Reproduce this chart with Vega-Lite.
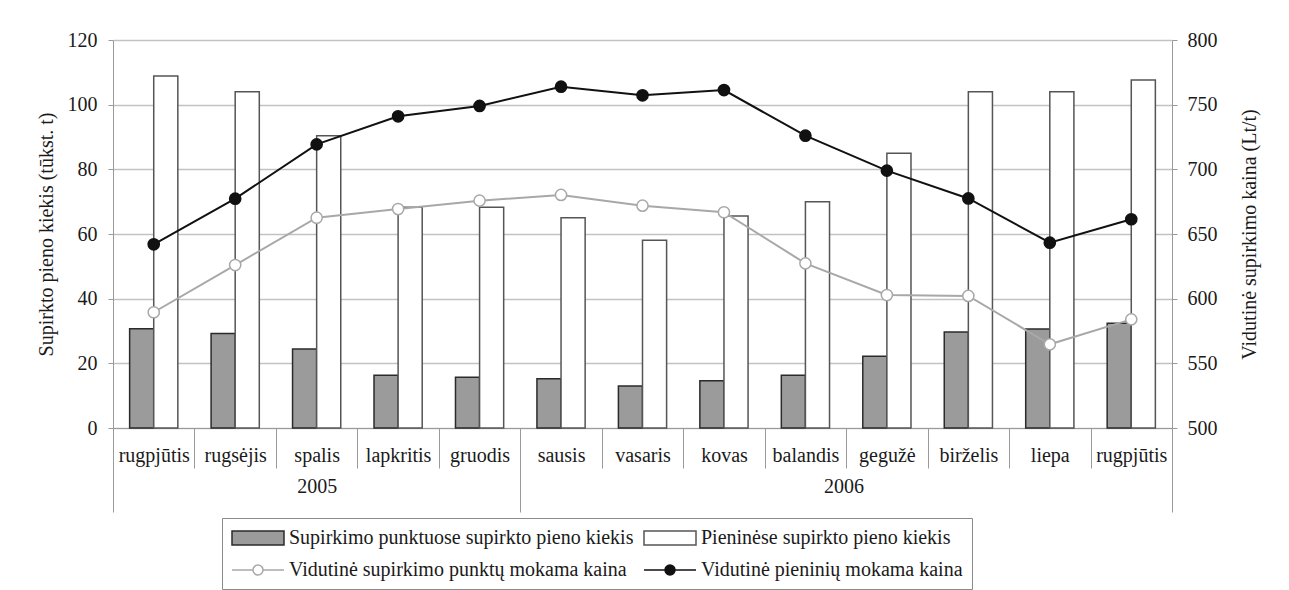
{
  "$schema": "https://vega.github.io/schema/vega-lite/v6.json",
  "width": 1059,
  "height": 388,
  "autosize": {"type": "none"},
  "padding": {"left": 113, "top": 40, "right": 117, "bottom": 162},
  "background": "white",
  "config": {
    "font": "Liberation Serif",
    "view": {"stroke": null},
    "axis": {
      "labelFont": "Liberation Serif",
      "labelFontSize": 20,
      "labelColor": "#1a1a1a",
      "titleFont": "Liberation Serif",
      "titleFontSize": 20,
      "titleFontWeight": "normal",
      "titleColor": "#1a1a1a",
      "domainColor": "#9a9a9a",
      "tickColor": "#9a9a9a",
      "gridColor": "#c2c2c2"
    }
  },
  "datasets": {
    "qty": [
      {"month": "rugpjūtis 2005", "series": "Supirkimo punktuose supirkto pieno kiekis", "value": 30.7},
      {"month": "rugsėjis 2005", "series": "Supirkimo punktuose supirkto pieno kiekis", "value": 29.2},
      {"month": "spalis 2005", "series": "Supirkimo punktuose supirkto pieno kiekis", "value": 24.4},
      {"month": "lapkritis 2005", "series": "Supirkimo punktuose supirkto pieno kiekis", "value": 16.3},
      {"month": "gruodis 2005", "series": "Supirkimo punktuose supirkto pieno kiekis", "value": 15.7},
      {"month": "sausis 2006", "series": "Supirkimo punktuose supirkto pieno kiekis", "value": 15.2},
      {"month": "vasaris 2006", "series": "Supirkimo punktuose supirkto pieno kiekis", "value": 13.0},
      {"month": "kovas 2006", "series": "Supirkimo punktuose supirkto pieno kiekis", "value": 14.6},
      {"month": "balandis 2006", "series": "Supirkimo punktuose supirkto pieno kiekis", "value": 16.3},
      {"month": "gegužė 2006", "series": "Supirkimo punktuose supirkto pieno kiekis", "value": 22.2},
      {"month": "birželis 2006", "series": "Supirkimo punktuose supirkto pieno kiekis", "value": 29.7},
      {"month": "liepa 2006", "series": "Supirkimo punktuose supirkto pieno kiekis", "value": 30.6},
      {"month": "rugpjūtis 2006", "series": "Supirkimo punktuose supirkto pieno kiekis", "value": 32.4},
      {"month": "rugpjūtis 2005", "series": "Pieninėse supirkto pieno kiekis", "value": 108.9},
      {"month": "rugsėjis 2005", "series": "Pieninėse supirkto pieno kiekis", "value": 104.0},
      {"month": "spalis 2005", "series": "Pieninėse supirkto pieno kiekis", "value": 90.4},
      {"month": "lapkritis 2005", "series": "Pieninėse supirkto pieno kiekis", "value": 68.3},
      {"month": "gruodis 2005", "series": "Pieninėse supirkto pieno kiekis", "value": 68.3},
      {"month": "sausis 2006", "series": "Pieninėse supirkto pieno kiekis", "value": 65.0},
      {"month": "vasaris 2006", "series": "Pieninėse supirkto pieno kiekis", "value": 58.1},
      {"month": "kovas 2006", "series": "Pieninėse supirkto pieno kiekis", "value": 65.6},
      {"month": "balandis 2006", "series": "Pieninėse supirkto pieno kiekis", "value": 70.0},
      {"month": "gegužė 2006", "series": "Pieninėse supirkto pieno kiekis", "value": 85.0},
      {"month": "birželis 2006", "series": "Pieninėse supirkto pieno kiekis", "value": 104.0},
      {"month": "liepa 2006", "series": "Pieninėse supirkto pieno kiekis", "value": 104.0},
      {"month": "rugpjūtis 2006", "series": "Pieninėse supirkto pieno kiekis", "value": 107.6}
    ],
    "price": [
      {"month": "rugpjūtis 2005", "series": "Vidutinė supirkimo punktų mokama kaina", "price": 589.5},
      {"month": "rugsėjis 2005", "series": "Vidutinė supirkimo punktų mokama kaina", "price": 626.0},
      {"month": "spalis 2005", "series": "Vidutinė supirkimo punktų mokama kaina", "price": 662.6},
      {"month": "lapkritis 2005", "series": "Vidutinė supirkimo punktų mokama kaina", "price": 669.3},
      {"month": "gruodis 2005", "series": "Vidutinė supirkimo punktų mokama kaina", "price": 675.8},
      {"month": "sausis 2006", "series": "Vidutinė supirkimo punktų mokama kaina", "price": 680.2},
      {"month": "vasaris 2006", "series": "Vidutinė supirkimo punktų mokama kaina", "price": 671.9},
      {"month": "kovas 2006", "series": "Vidutinė supirkimo punktų mokama kaina", "price": 666.8},
      {"month": "balandis 2006", "series": "Vidutinė supirkimo punktų mokama kaina", "price": 627.3},
      {"month": "gegužė 2006", "series": "Vidutinė supirkimo punktų mokama kaina", "price": 602.8},
      {"month": "birželis 2006", "series": "Vidutinė supirkimo punktų mokama kaina", "price": 602.1},
      {"month": "liepa 2006", "series": "Vidutinė supirkimo punktų mokama kaina", "price": 564.7},
      {"month": "rugpjūtis 2006", "series": "Vidutinė supirkimo punktų mokama kaina", "price": 584.0},
      {"month": "rugpjūtis 2005", "series": "Vidutinė pieninių mokama kaina", "price": 642.0},
      {"month": "rugsėjis 2005", "series": "Vidutinė pieninių mokama kaina", "price": 677.3},
      {"month": "spalis 2005", "series": "Vidutinė pieninių mokama kaina", "price": 719.3},
      {"month": "lapkritis 2005", "series": "Vidutinė pieninių mokama kaina", "price": 741.0},
      {"month": "gruodis 2005", "series": "Vidutinė pieninių mokama kaina", "price": 749.0},
      {"month": "sausis 2006", "series": "Vidutinė pieninių mokama kaina", "price": 763.9},
      {"month": "vasaris 2006", "series": "Vidutinė pieninių mokama kaina", "price": 757.2},
      {"month": "kovas 2006", "series": "Vidutinė pieninių mokama kaina", "price": 761.3},
      {"month": "balandis 2006", "series": "Vidutinė pieninių mokama kaina", "price": 726.0},
      {"month": "gegužė 2006", "series": "Vidutinė pieninių mokama kaina", "price": 699.0},
      {"month": "birželis 2006", "series": "Vidutinė pieninių mokama kaina", "price": 677.5},
      {"month": "liepa 2006", "series": "Vidutinė pieninių mokama kaina", "price": 643.3},
      {"month": "rugpjūtis 2006", "series": "Vidutinė pieninių mokama kaina", "price": 661.4}
    ]
  },
  "resolve": {"scale": {"y": "independent"}, "axis": {"x": "independent"}},
  "layer": [
    {
      "data": {"name": "qty"},
      "mark": {"type": "bar", "strokeWidth": 1.5},
      "encoding": {
        "x": {
          "field": "month", "type": "nominal",
          "scale": {"type": "band", "domain": ["rugpjūtis 2005","rugsėjis 2005","spalis 2005","lapkritis 2005","gruodis 2005","sausis 2006","vasaris 2006","kovas 2006","balandis 2006","gegužė 2006","birželis 2006","liepa 2006","rugpjūtis 2006"], "paddingInner": 0, "paddingOuter": 0},
          "axis": {"title": null, "orient": "bottom", "labelAngle": 0, "tickBand": "extent", "tickSize": 40, "labelPadding": -23, "labelExpr": "datum.value ? split(datum.value, ' ')[0] : ''", "grid": false, "domain": true}
        },
        "xOffset": {"field": "series", "type": "nominal", "scale": {"domain": ["Supirkimo punktuose supirkto pieno kiekis", "Pieninėse supirkto pieno kiekis"], "paddingInner": 0, "paddingOuter": 0.69}},
        "y": {
          "field": "value", "type": "quantitative", "stack": null,
          "scale": {"domain": [0, 120]},
          "axis": {"title": "Supirkto pieno kiekis (tūkst. t)", "values": [0,20,40,60,80,100,120], "tickSize": 5, "labelPadding": 11, "titlePadding": 11, "grid": true, "gridWidth": 1.3}
        },
        "fill": {
          "field": "series", "type": "nominal",
          "scale": {"domain": ["Supirkimo punktuose supirkto pieno kiekis", "Pieninėse supirkto pieno kiekis", "Vidutinė supirkimo punktų mokama kaina", "Vidutinė pieninių mokama kaina"], "range": ["#9b9b9b", "#ffffff", "#ffffff", "#111111"]},
          "legend": {
            "title": null, "orient": "none", "legendX": 109, "legendY": 478,
            "direction": "horizontal", "columns": 2, "gridAlign": "all",
            "padding": 9, "strokeColor": "#8a8a8a", "fillColor": "#ffffff",
            "symbolSize": 400, "symbolStrokeWidth": 1.5, "labelOffset": 36,
            "columnPadding": 7, "rowPadding": 11,
            "labelFont": "Liberation Serif", "labelFontSize": 20, "labelColor": "#1a1a1a", "labelLimit": 0,
            "encode": {
              "symbols": {
                "update": {
                  "shape": {"signal": "indexof(datum.value, 'kiekis') >= 0 ? 'M-1,-0.7H4.2V0.7H-1Z' : 'M-1,0H1.1M2.1,0H4.2M2.1,0A0.5,0.5,0,1,1,1.1,0A0.5,0.5,0,1,1,2.1,0Z'"},
                  "stroke": {"signal": "datum.value == 'Supirkimo punktuose supirkto pieno kiekis' ? '#2b2b2b' : datum.value == 'Pieninėse supirkto pieno kiekis' ? '#555555' : datum.value == 'Vidutinė supirkimo punktų mokama kaina' ? '#a8a8a8' : '#111111'"},
                  "strokeWidth": {"value": 1.5},
                  "opacity": {"value": 1}
                }
              }
            }
          }
        },
        "stroke": {
          "field": "series", "type": "nominal",
          "scale": {"domain": ["Supirkimo punktuose supirkto pieno kiekis", "Pieninėse supirkto pieno kiekis", "Vidutinė supirkimo punktų mokama kaina", "Vidutinė pieninių mokama kaina"], "range": ["#2b2b2b", "#555555", "#a8a8a8", "#111111"]},
          "legend": null
        }
      }
    },
    {
      "data": {"name": "price"},
      "encoding": {
        "x": {
          "field": "month", "type": "nominal",
          "scale": {"type": "band", "domain": ["rugpjūtis 2005","rugsėjis 2005","spalis 2005","lapkritis 2005","gruodis 2005","sausis 2006","vasaris 2006","kovas 2006","balandis 2006","gegužė 2006","birželis 2006","liepa 2006","rugpjūtis 2006"], "paddingInner": 0, "paddingOuter": 0},
          "axis": {
            "title": null, "orient": "bottom", "labelAngle": 0, "tickBand": "extent", "tickSize": 84, "domain": false, "grid": false,
            "labelPadding": -36,
            "labelExpr": "datum.value == 'spalis 2005' ? '2005' : datum.value == 'balandis 2006' ? '2006' : ''",
            "labelOffset": {"condition": {"test": "datum.value == 'balandis 2006'", "value": 38}, "value": 0},
            "tickOpacity": {"condition": {"test": "datum.value == 'gruodis 2005' || datum.value == 'rugpjūtis 2006' || !datum.value || datum.index < 0", "value": 1}, "value": 0}
          }
        },
        "y": {
          "field": "price", "type": "quantitative",
          "scale": {"domain": [500, 800]},
          "axis": {"title": "Vidutinė supirkimo kaina (Lt/t)", "orient": "right", "values": [500,550,600,650,700,750,800], "tickSize": 5, "labelPadding": 10, "titlePadding": 22, "titleAngle": 270, "titleBaseline": "top", "grid": false}
        },
        "stroke": {"field": "series", "type": "nominal", "legend": null}
      },
      "layer": [
        {"mark": {"type": "line", "strokeWidth": 2}},
        {
          "mark": {"type": "point", "filled": true, "strokeWidth": 1.5, "opacity": 1},
          "encoding": {
            "fill": {"field": "series", "type": "nominal"},
            "size": {"value": 125}
          }
        }
      ]
    }
  ]
}
